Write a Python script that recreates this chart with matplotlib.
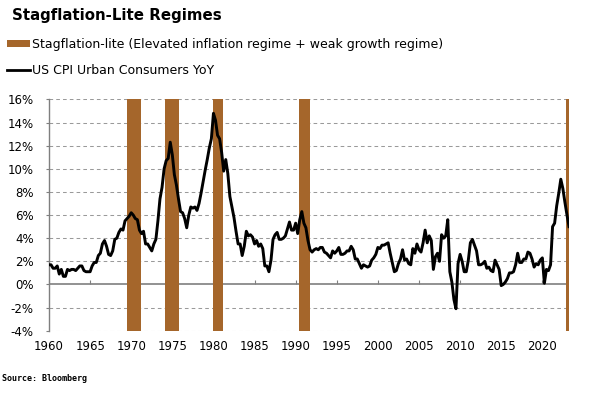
import matplotlib
matplotlib.use("Agg")
import matplotlib.pyplot as plt
import numpy as np
import pandas as pd
from matplotlib.patches import Patch
from matplotlib.lines import Line2D

# ---------------- data ----------------
# US CPI Urban Consumers YoY (%), quarterly readings starting 1960 Q1
cpi_yoy = [
    1.7, 1.7, 1.4, 1.4,    # 1960
    1.6, 0.9, 1.3, 0.7,    # 1961
    0.7, 1.3, 1.2, 1.3,    # 1962
    1.3, 1.2, 1.4, 1.6,    # 1963
    1.6, 1.2, 1.1, 1.1,    # 1964
    1.1, 1.6, 1.9, 1.9,    # 1965
    2.5, 2.7, 3.5, 3.8,    # 1966
    3.3, 2.6, 2.5, 2.9,    # 1967
    3.9, 4.0, 4.5, 4.8,    # 1968
    4.7, 5.5, 5.7, 5.9,    # 1969
    6.2, 6.0, 5.7, 5.6,    # 1970
    4.7, 4.4, 4.6, 3.5,    # 1971
    3.5, 3.2, 2.9, 3.5,    # 1972
    3.9, 5.5, 7.4, 8.4,    # 1973
    10.0, 10.7, 10.9, 12.3,  # 1974
    11.2, 9.5, 8.6, 7.4,   # 1975
    6.3, 6.2, 5.7, 4.9,    # 1976
    6.0, 6.7, 6.6, 6.7,    # 1977
    6.4, 7.0, 7.9, 8.9,    # 1978
    9.9, 10.8, 11.8, 12.6,  # 1979
    14.8, 14.2, 12.9, 12.6,  # 1980
    11.4, 9.8, 10.8, 9.6,  # 1981
    7.6, 6.7, 5.8, 4.6,    # 1982
    3.5, 3.5, 2.5, 3.3,    # 1983
    4.6, 4.2, 4.3, 4.1,    # 1984
    3.5, 3.8, 3.3, 3.5,    # 1985
    3.1, 1.6, 1.6, 1.1,    # 1986
    2.1, 3.9, 4.3, 4.5,    # 1987
    3.9, 3.9, 4.0, 4.2,    # 1988
    4.8, 5.4, 4.7, 4.7,    # 1989
    5.3, 4.4, 5.6, 6.3,    # 1990
    5.3, 4.9, 3.8, 3.0,    # 1991
    2.8, 3.0, 3.1, 3.0,    # 1992
    3.2, 3.2, 2.8, 2.7,    # 1993
    2.5, 2.3, 2.9, 2.7,    # 1994
    2.9, 3.2, 2.6, 2.6,    # 1995
    2.7, 2.9, 2.9, 3.3,    # 1996
    3.0, 2.2, 2.2, 1.8,    # 1997
    1.4, 1.7, 1.6, 1.5,    # 1998
    1.6, 2.1, 2.3, 2.6,    # 1999
    3.2, 3.1, 3.4, 3.4,    # 2000
    3.5, 3.6, 2.7, 1.9,    # 2001
    1.1, 1.2, 1.8, 2.2,    # 2002
    3.0, 2.1, 2.2, 1.8,    # 2003
    1.7, 3.1, 2.7, 3.5,    # 2004
    3.0, 2.8, 3.6, 4.7,    # 2005
    3.6, 4.2, 3.8, 1.3,    # 2006
    2.4, 2.7, 2.0, 4.3,    # 2007
    4.0, 4.2, 5.6, 1.1,    # 2008
    0.2, -1.3, -2.1, 1.8,  # 2009
    2.6, 2.0, 1.1, 1.1,    # 2010
    2.1, 3.6, 3.9, 3.4,    # 2011
    2.9, 1.7, 1.7, 1.8,    # 2012
    2.0, 1.4, 1.5, 1.2,    # 2013
    1.1, 2.1, 1.7, 1.3,    # 2014
    -0.1, 0.0, 0.2, 0.5,   # 2015
    1.0, 1.0, 1.1, 1.7,    # 2016
    2.7, 1.9, 1.9, 2.2,    # 2017
    2.2, 2.8, 2.7, 2.2,    # 2018
    1.5, 1.8, 1.7, 2.1,    # 2019
    2.3, 0.1, 1.3, 1.2,    # 2020
    1.7, 5.0, 5.3, 6.8,    # 2021
    7.9, 9.1, 8.3, 7.1,    # 2022
    6.0, 5.0,              # 2023
]
start_date = "1960-01-01"

# Stagflation-lite regimes (start, end) in decimal years
regime_starts = [1969.45, 1974.15, 1979.90, 1990.35, 2022.90]
regime_ends = [1971.15, 1975.80, 1981.20, 1991.70, 2023.25]

year_ticks = list(range(1960, 2021, 5))
y_ticks = list(range(-4, 17, 2))

title = "Stagflation-Lite Regimes"
legend_labels = ["Stagflation-lite (Elevated inflation regime + weak growth regime)",
                 "US CPI Urban Consumers YoY"]
source = "Source: Bloomberg"

# ---------------- plot ----------------
dates = pd.date_range(start_date, periods=len(cpi_yoy), freq="QS")
xdec = dates.year + (dates.dayofyear - 1) / 365.25

BROWN = "#A5662B"
GRID = "#9A9A9A"

fig = plt.figure(figsize=(5.94, 3.93), dpi=100)
ax = fig.add_axes([0.0825, 0.1585, 0.8755, 0.5885])

for s, e in zip(regime_starts, regime_ends):
    ax.axvspan(s, e, color=BROWN, lw=0, zorder=2)

ax.plot(xdec, cpi_yoy, color="black", lw=2.1, zorder=4, solid_joinstyle="round")

ax.set_xlim(1960, 2023.25)
ax.set_ylim(-4, 16)

ax.set_yticks(y_ticks)
ax.set_yticklabels([f"{v}%" for v in y_ticks])
ax.set_xticks(year_ticks)
ax.set_xticklabels([str(y) for y in year_ticks])

for v in y_ticks:
    if v == 0:
        ax.axhline(v, color="#7F7F7F", lw=1.2, zorder=1)
    else:
        ax.axhline(v, color=GRID, lw=0.75, ls=(0, (3.5, 3)), zorder=1)

for side in ["top", "right", "bottom"]:
    ax.spines[side].set_visible(False)
ax.spines["left"].set_color("#7F7F7F")
ax.spines["left"].set_linewidth(1.0)

ax.tick_params(axis="x", length=0, pad=7, labelsize=8.5, colors="black")
ax.tick_params(axis="y", length=2, width=0.8, color="#7F7F7F", direction="out",
               pad=9, labelsize=8.5)

# small tick marks on the zero line
sec = ax.secondary_xaxis((0 - (-4)) / 20)
sec.set_xticks(year_ticks)
sec.tick_params(axis="x", direction="in", length=3, width=0.8, color="#7F7F7F",
                labelbottom=False, labeltop=False)
sec.spines["bottom"].set_visible(False)
sec.spines["top"].set_visible(False)

fig.text(0.021, 0.96, title, fontsize=10.8, fontweight="bold", ha="left", va="center")

handles = [Patch(facecolor=BROWN, edgecolor="none"),
           Line2D([0], [0], color="black", lw=2.0)]
fig.legend(handles, legend_labels, loc="upper left", bbox_to_anchor=(0.012, 0.903),
           frameon=False, fontsize=9, handlelength=1.85, handleheight=0.55,
           handletextpad=0.12, labelspacing=1.0, borderpad=0, borderaxespad=0)

fig.text(0.003, 0.038, source, fontsize=6, fontweight="bold",
         family="DejaVu Sans Mono", ha="left", va="center")

fig.savefig("out.png", dpi=100)
